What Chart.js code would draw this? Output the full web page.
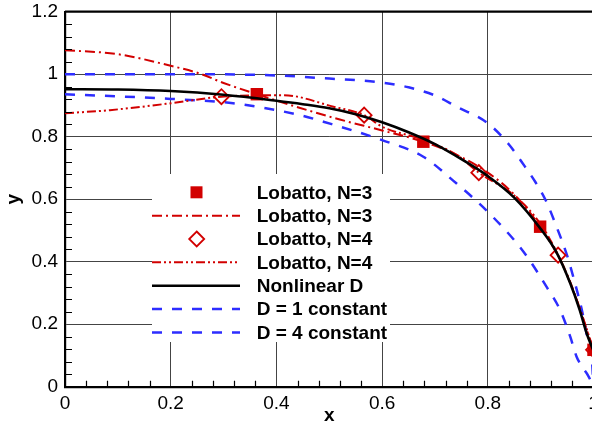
<!DOCTYPE html>
<html>
<head>
<meta charset="utf-8">
<script src="https://cdn.jsdelivr.net/npm/chart.js@4.4.0/dist/chart.umd.min.js"></script>
<style>
html, body { margin: 0; padding: 0; background: #fff; overflow: hidden; }
canvas { display: block; }
</style>
</head>
<body>
<canvas id="plot" width="594" height="425"></canvas>
<script>
// Lobatto collocation points
var squareX = [0.363, 0.678, 0.899, 1.0];
var squareY = [0.936, 0.784, 0.512, 0.118];
var diamondX = [0.296, 0.566, 0.783, 0.933, 1.0];
var diamondY = [0.928, 0.869, 0.685, 0.421, 0.118];

// Lobatto interpolants
var n3X = [0, 0.1, 0.2, 0.255, 0.3, 0.363, 0.445, 0.52, 0.6, 0.678, 0.741, 0.8, 0.85, 0.899, 0.95, 1.0];
var n3Y = [1.077, 1.064, 1.027, 1.002, 0.972, 0.936, 0.892, 0.855, 0.82, 0.784, 0.742, 0.685, 0.615, 0.512, 0.36, 0.118];
var n4X = [0, 0.085, 0.2, 0.296, 0.413, 0.508, 0.566, 0.6, 0.678, 0.741, 0.783, 0.85, 0.9, 0.933, 0.97, 1.0];
var n4Y = [0.875, 0.885, 0.907, 0.928, 0.933, 0.896, 0.869, 0.832, 0.79, 0.742, 0.685, 0.612, 0.52, 0.421, 0.27, 0.118];

// nonlinear solution
var nlX = [0, 0.1, 0.2, 0.3, 0.4, 0.45, 0.5, 0.55, 0.6, 0.65, 0.7, 0.75, 0.8, 0.85, 0.9, 0.93, 0.956, 0.974, 0.987, 1.0];
var nlY = [0.952, 0.951, 0.946, 0.934, 0.915, 0.904, 0.891, 0.872, 0.846, 0.814, 0.776, 0.728, 0.674, 0.605, 0.505, 0.43, 0.331, 0.245, 0.171, 0.115];

// constant D solutions
var d1X = [0, 0.2, 0.4, 0.5, 0.55, 0.6, 0.65, 0.7, 0.74, 0.8, 0.84, 0.87, 0.89, 0.91, 0.93, 0.95, 0.965, 0.978, 0.988, 0.997, 1.0];
var d1Y = [1.0, 1.0, 0.996, 0.986, 0.981, 0.973, 0.958, 0.932, 0.897, 0.843, 0.775, 0.705, 0.655, 0.595, 0.512, 0.42, 0.331, 0.245, 0.16, 0.085, 0.0];
var d4X = [0, 0.2, 0.318, 0.445, 0.489, 0.6, 0.678, 0.741, 0.773, 0.804, 0.855, 0.877, 0.911, 0.937, 0.956, 0.968, 0.98, 0.99, 1.0];
var d4Y = [0.936, 0.921, 0.907, 0.869, 0.848, 0.789, 0.736, 0.65, 0.603, 0.553, 0.459, 0.41, 0.32, 0.245, 0.16, 0.096, 0.06, 0.035, 0.0];

var xTicks = [0, 0.2, 0.4, 0.6, 0.8, 1];
var yTicks = [0, 0.2, 0.4, 0.6, 0.8, 1, 1.2];

function pts(xs, ys) {
    return xs.map(function (v, i) { return { x: v, y: ys[i] }; });
}

var RED = 'rgb(210,0,0)';
var BLUE = 'rgb(45,45,255)';
var FONT = "'Liberation Sans', Arial, Helvetica, sans-serif";

Chart.defaults.font.family = FONT;
Chart.defaults.color = '#000';

// legend drawn inside the plot, plus minor ticks and frame
var decor = {
    id: 'decor',
    afterDatasetsDraw: function (chart) {
        var ctx = chart.ctx;
        ctx.save();
        ctx.fillStyle = '#fff';
        ctx.fillRect(152, 174, 238, 168);
        chart.data.datasets.forEach(function (ds, i) {
            var yy = 192.3 + i * 23.35;
            ctx.save();
            if (ds.showLine === false) {
                ctx.lineWidth = ds.borderWidth;
                if (ds.pointStyle === 'rect') {
                    ctx.fillStyle = ds.backgroundColor;
                    ctx.fillRect(190.5, yy - 6, 12, 12);
                } else {
                    ctx.strokeStyle = ds.borderColor;
                    ctx.beginPath();
                    ctx.moveTo(196.7, yy - 7.5);
                    ctx.lineTo(204.2, yy);
                    ctx.lineTo(196.7, yy + 7.5);
                    ctx.lineTo(189.2, yy);
                    ctx.closePath();
                    ctx.stroke();
                }
            } else {
                ctx.strokeStyle = ds.borderColor;
                ctx.lineWidth = ds.borderWidth;
                ctx.setLineDash(ds.borderDash || []);
                ctx.beginPath();
                ctx.moveTo(152, yy);
                ctx.lineTo(240, yy);
                ctx.stroke();
            }
            ctx.restore();
            ctx.fillStyle = '#000';
            ctx.font = 'bold 19px ' + FONT;
            ctx.textBaseline = 'middle';
            ctx.textAlign = 'left';
            ctx.fillText(ds.label, 256.7, yy + 1);
        });
        ctx.restore();
    },
    afterDraw: function (chart) {
        var ctx = chart.ctx, a = chart.chartArea;
        var sx = chart.scales.x, sy = chart.scales.y;
        ctx.save();
        ctx.strokeStyle = '#000';
        ctx.lineWidth = 1.2;
        ctx.beginPath();
        for (var i = 1; i < 30; i++) {
            if (i % 5 === 0) continue;
            var py = Math.round(sy.getPixelForValue(i * 0.04)) + 0.5;
            ctx.moveTo(a.left, py);
            ctx.lineTo(a.left + 7, py);
        }
        for (var j = 1; j < 25; j++) {
            if (j % 5 === 0) continue;
            var px = Math.round(sx.getPixelForValue(j * 0.04)) + 0.5;
            ctx.moveTo(px, a.bottom);
            ctx.lineTo(px, a.bottom - 6);
        }
        ctx.stroke();
        ctx.lineWidth = 2.2;
        ctx.beginPath();
        ctx.moveTo(a.left, a.top);
        ctx.lineTo(a.right, a.top);
        ctx.lineTo(a.right, a.bottom);
        ctx.stroke();
        ctx.restore();
    }
};

function plain(v) { return String(v); }

new Chart(document.getElementById('plot'), {
    type: 'scatter',
    data: {
        datasets: [
            {
                label: 'Lobatto, N=3', data: pts(squareX, squareY), showLine: false,
                pointStyle: 'rect', pointRadius: 8.8, pointHoverRadius: 8.8,
                backgroundColor: RED, borderColor: RED, borderWidth: 0, order: 1, clip: false
            },
            {
                label: 'Lobatto, N=3', data: pts(n3X, n3Y), showLine: true, pointRadius: 0,
                borderColor: RED, borderWidth: 2, borderDash: [10, 4, 2, 4], order: 2,
                cubicInterpolationMode: 'monotone'
            },
            {
                label: 'Lobatto, N=4', data: pts(diamondX, diamondY), showLine: false,
                pointStyle: 'rectRot', pointRadius: 7.5, pointHoverRadius: 7.5,
                backgroundColor: 'rgba(0,0,0,0)', borderColor: RED, borderWidth: 1.8, order: 1, clip: false
            },
            {
                label: 'Lobatto, N=4', data: pts(n4X, n4Y), showLine: true, pointRadius: 0,
                borderColor: RED, borderWidth: 2, borderDash: [9, 3, 2, 3, 2, 3], order: 2,
                cubicInterpolationMode: 'monotone'
            },
            {
                label: 'Nonlinear D', data: pts(nlX, nlY), showLine: true, pointRadius: 0,
                borderColor: '#000', borderWidth: 2.6, order: 0,
                cubicInterpolationMode: 'monotone'
            },
            {
                label: 'D = 1 constant', data: pts(d1X, d1Y), showLine: true, pointRadius: 0,
                borderColor: BLUE, borderWidth: 2.5, borderDash: [10, 10], order: 3,
                cubicInterpolationMode: 'monotone'
            },
            {
                label: 'D = 4 constant', data: pts(d4X, d4Y), showLine: true, pointRadius: 0,
                borderColor: BLUE, borderWidth: 2.5, borderDash: [10, 10], order: 3,
                cubicInterpolationMode: 'monotone'
            }
        ]
    },
    options: {
        responsive: false,
        animation: false,
        devicePixelRatio: 1,
        layout: { autoPadding: false, padding: { left: 0, right: 0.5, top: 11.7, bottom: 0 } },
        plugins: { legend: { display: false }, tooltip: { enabled: false } },
        scales: {
            x: {
                type: 'linear', min: 0, max: 1,
                afterBuildTicks: function (s) { s.ticks = xTicks.map(function (v) { return { value: v }; }); },
                afterFit: function (s) { s.height = 38.3; s.paddingLeft = 0; s.paddingRight = 0; },
                ticks: { padding: 6, font: { size: 19 }, color: '#000', maxRotation: 0, callback: plain },
                grid: { color: '#444', lineWidth: 1, drawTicks: false },
                border: { color: '#000', width: 2.2 },
                title: { display: true, text: 'x', font: { size: 19, weight: 'bold', lineHeight: 1 }, padding: { top: 0, bottom: 0 } }
            },
            y: {
                type: 'linear', min: 0, max: 1.2,
                afterBuildTicks: function (s) { s.ticks = yTicks.map(function (v) { return { value: v }; }); },
                afterFit: function (s) { s.width = 65; s.paddingTop = 0; s.paddingBottom = 0; },
                ticks: { padding: 7, font: { size: 19 }, color: '#000', callback: plain },
                grid: { color: '#444', lineWidth: 1, drawTicks: false },
                border: { color: '#000', width: 2.2 },
                title: { display: true, text: 'y', font: { size: 19, weight: 'bold', lineHeight: 1 }, padding: { top: 4.5, bottom: 0 } }
            }
        }
    },
    plugins: [decor]
});
</script>
</body>
</html>
